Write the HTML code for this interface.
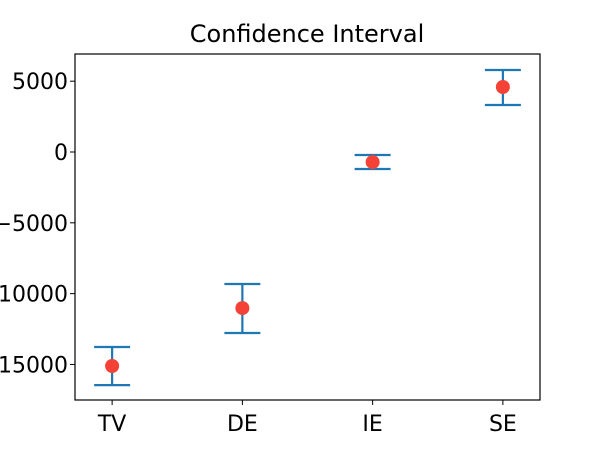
<!DOCTYPE html>
<html><head><meta charset="utf-8"><style>body{margin:0;background:#fff}svg{display:block}text{font-family:"DejaVu Sans","Liberation Sans",sans-serif}</style></head>
<body>
<svg id="c" width="600" height="450">
<text x="307" y="42" text-anchor="middle" font-size="24">Confidence Interval</text>
<g id="plot"></g>
<rect x="75" y="54" width="465" height="346" fill="none" stroke="#000" stroke-width="1.2"/>
</svg>
<script>
const categories=["TV","DE","IE","SE"];
const means=[-15110,-11020,-710,4590];
const upper=[-13770,-9320,-210,5790];
const lower=[-16460,-12780,-1200,3320];
const yTicks=[5000,0,-5000,-10000,-15000];
const yTickLabels=["5000","0","\u22125000","\u221210000","\u221215000"];
const NS="http://www.w3.org/2000/svg";
const g=document.getElementById('plot');
const L=75,R=540,T=54,B=400,yMin=-17510,yMax=6920,xMin=-0.285,xMax=3.285;
const X=i=>L+(i-xMin)/(xMax-xMin)*(R-L);
const Y=v=>T+(yMax-v)/(yMax-yMin)*(B-T);
function mk(t,a){const e=document.createElementNS(NS,t);for(const k in a)e.setAttribute(k,a[k]);g.appendChild(e);return e;}
yTicks.forEach((v,i)=>{
 const tk=mk('line',{x1:L-5,x2:L,y1:Y(v),y2:Y(v),stroke:'#000'});
 
 
 const t=mk('text',{x:L-7,y:Y(v)+8,'text-anchor':'end','font-size':'22'});
 t.textContent=yTickLabels[i];
 
 
});
categories.forEach((c,i)=>{
 const x=X(i);
 const tk=mk('line',{x1:x,x2:x,y1:B,y2:B+5,stroke:'#000'});
 
 
 const t=mk('text',{x:x,y:B+31,'text-anchor':'middle','font-size':'22'});
 t.textContent=c;
 
 
 const eb=mk('path',{d:`M${x},${Y(upper[i])}V${Y(lower[i])}M${x-18},${Y(upper[i])}H${x+18}M${x-18},${Y(lower[i])}H${x+18}`,stroke:'#1f77b4','stroke-width':'2.2',fill:'none'});
 
 
 const p=mk('circle',{cx:x,cy:Y(means[i]),r:7,fill:'#f44336'});
 
 
});
</script>
</body></html>
